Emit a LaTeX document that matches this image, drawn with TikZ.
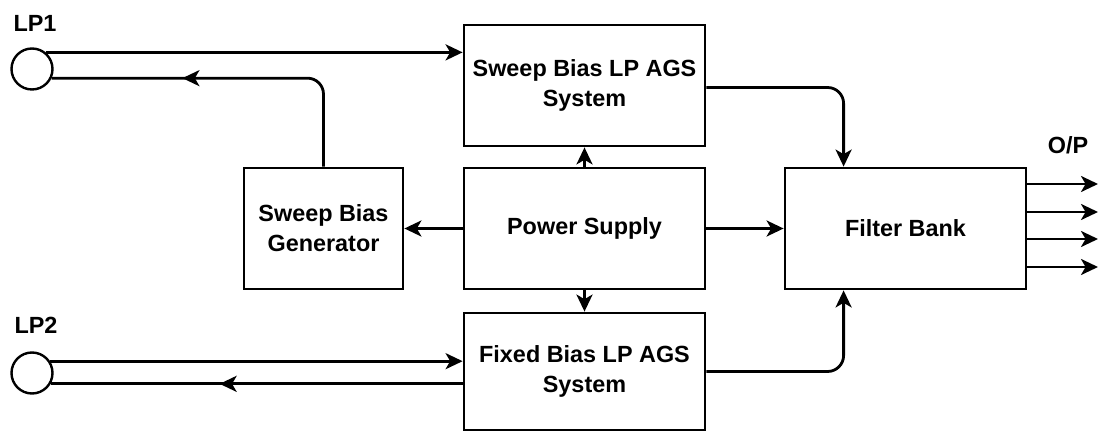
\documentclass[tikz,border=0pt]{standalone}
\usepackage{fontspec}
\setmainfont{Liberation Sans}
\usetikzlibrary{arrows.meta,decorations.markings,calc}
\begin{document}
\begin{tikzpicture}[x=0.5pt,y=-0.5pt,
  line width=1.4pt,
  tip/.style={-{Stealth[length=8.5pt,width=8pt,inset=2.3pt]}},
  blk/.style={draw,rectangle,inner sep=0pt,align=center,
    font=\fontsize{11.7}{15}\selectfont\bfseries},
  lbl/.style={font=\fontsize{11.7}{14}\selectfont\bfseries,inner sep=0pt},
  port/.style={draw,circle,inner sep=0pt,minimum size=20.5pt,line width=1.2pt},
  midtip/.style={postaction={decorate},decoration={markings,
    mark=at position #1 with {\arrow{Stealth[length=8.5pt,width=8pt,inset=2.3pt]}}}}
]
\useasboundingbox (0,0) rectangle (1098,432);
% blocks
\node[blk,minimum width=120.5pt,minimum height=60.5pt] (sweep) at (584.5,85.5) {Sweep Bias LP AGS\\System};
\node[blk,minimum width=120.5pt,minimum height=60.5pt] (power) at (584.5,228.5) {Power Supply};
\node[blk,minimum width=79.5pt,minimum height=60.5pt] (gen) at (323.5,228.5) {Sweep Bias\\Generator};
\node[blk,minimum width=120.5pt,minimum height=60.5pt] (filter) at (905.5,228.5) {Filter Bank};
\node[blk,minimum width=120.5pt,minimum height=58.5pt] (fixed) at (584.5,371.5) {Fixed Bias LP AGS\\System};
% ports
\node[port] (lp1) at (32,69) {};
\node[port] (lp2) at (32,373) {};
\node[lbl] (lp1t) at (35,23) {LP1};
\node[lbl] (lp2t) at (36,325) {LP2};
\node[lbl] (opt) at (1068,145) {O/P};
% output coordinates
\coordinate (o1) at (1098,184);
\coordinate (o2) at (1098,212);
\coordinate (o3) at (1098,239);
\coordinate (o4) at (1098,267);
% connectors
\draw[tip] (lp1.50) -- (lp1.50 -| sweep.west);
\draw[midtip=0.63,rounded corners=8pt] (gen.north) |- (lp1.-25);
\draw[tip] (lp2.33) -- (lp2.33 -| fixed.west);
\draw[midtip=0.59] (lp2.-30 -| fixed.west) -- (lp2.-30);
\draw[tip] (power.north) -- (sweep.south);
\draw[tip] (power.south) -- (fixed.north);
\draw[tip] (power.west) -- (gen.east);
\draw[tip] (power.east) -- (filter.west);
\draw[tip,rounded corners=8pt] ([yshift=-1pt]sweep.east) -| ([xshift=30pt]filter.north west);
\draw[tip,rounded corners=8pt] (fixed.east) -| ([xshift=30pt]filter.south west);
\draw[tip] (o1 -| filter.east) -- (o1);
\draw[tip] (o2 -| filter.east) -- (o2);
\draw[tip] (o3 -| filter.east) -- (o3);
\draw[tip] (o4 -| filter.east) -- (o4);
\end{tikzpicture}
\end{document}
